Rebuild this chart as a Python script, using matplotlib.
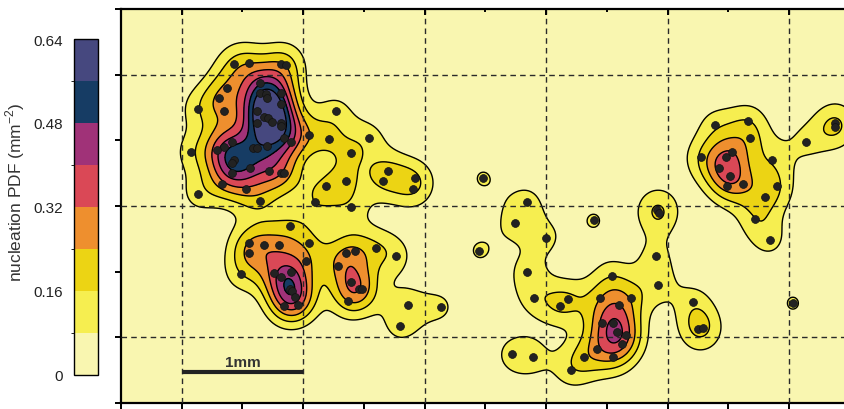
import numpy as np
import matplotlib
matplotlib.use('Agg')
import matplotlib.pyplot as plt
from matplotlib.colors import ListedColormap, BoundaryNorm

plt.rcParams['font.family'] = ['Liberation Sans', 'DejaVu Sans']
plt.rcParams['mathtext.fontset'] = 'custom'
plt.rcParams['mathtext.rm'] = 'Liberation Sans'

# nucleation sites, positions in mm
site_x = [0.93, 1.05, 1.32, 1.36, 0.87, 0.81, 0.63, 0.85, 1.14, 1.14,
          1.19, 1.32, 1.20, 1.32, 1.12, 1.18, 1.21, 1.12, 1.24, 1.32,
          1.32, 1.55, 1.34, 1.40, 0.91, 0.85, 0.79, 1.09, 1.12, 1.20,
          0.58, 0.93, 0.91, 1.06, 0.91, 1.22, 1.32, 1.34, 0.83, 1.03,
          0.63, 1.14, 1.60,
          1.77, 1.71, 2.04, 1.89, 2.20, 2.16, 2.42, 2.40, 1.69, 1.85,
          1.89,
          1.39, 1.05, 1.18, 1.30, 1.55, 1.05, 1.52, 0.99, 1.26, 1.40,
          1.32, 1.39, 1.41, 1.43, 1.34, 1.46,
          1.85, 1.93, 2.10, 2.26, 1.79, 1.89, 1.96, 1.98, 1.87, 2.36,
          2.63, 2.30,
          2.98, 2.95, 3.34, 3.24, 3.50, 3.89, 3.34, 3.40, 3.61, 3.68,
          3.22, 3.39,
          4.41, 4.43, 4.40, 4.04, 4.42, 3.94, 4.20, 4.10, 3.96, 4.05,
          4.08, 4.16, 4.12, 3.92, 3.81, 4.05, 3.70, 4.71, 4.75, 4.79,
          4.89, 5.16, 5.18, 4.77, 4.98, 5.03, 4.92, 5.01, 4.99, 5.12,
          5.36, 5.40, 5.30, 5.22, 5.34, 5.64, 5.88, 5.88, 5.53]
site_y = [2.58, 2.59, 2.58, 2.57, 2.40, 2.32, 2.24, 2.22, 2.44, 2.36,
          2.35, 2.36, 2.32, 2.28, 2.22, 2.18, 2.17, 2.13, 2.14, 2.13,
          2.11, 2.04, 2.02, 1.99, 1.99, 1.95, 1.93, 1.94, 1.94, 1.96,
          1.91, 1.85, 1.83, 1.79, 1.75, 1.77, 1.75, 1.75, 1.67, 1.63,
          1.59, 1.54, 1.53,
          2.22, 2.01, 2.02, 1.90, 1.77, 1.69, 1.71, 1.63, 1.65, 1.69,
          1.49,
          1.35, 1.22, 1.20, 1.20, 1.22, 1.14, 1.08, 0.98, 0.99, 1.00,
          0.96, 0.87, 0.85, 0.81, 0.74, 0.75,
          1.14, 1.16, 1.18, 1.12, 1.04, 0.92, 0.87, 0.87, 0.78, 0.75,
          0.73, 0.59,
          1.71, 1.16, 1.53, 1.37, 1.26, 1.39, 1.00, 0.80, 0.74, 0.79,
          0.37, 0.35,
          1.47, 1.45, 1.12, 0.97, 0.90, 0.80, 0.80, 0.75, 0.61, 0.61,
          0.54, 0.52, 0.45, 0.41, 0.35, 0.35, 0.25, 0.77, 0.56, 0.57,
          2.12, 2.15, 2.02, 1.87, 1.87, 1.91, 1.79, 1.73, 1.65, 1.67,
          1.85, 1.65, 1.57, 1.40, 1.24, 1.99, 2.13, 2.10, 0.76]

pdf_levels = [0, 0.08, 0.16, 0.24, 0.32, 0.40, 0.48, 0.56, 0.64]
pdf_colors = ['#F9F6B0', '#F6EE50', '#ECD414', '#EE8F2E',
              '#DA4856', '#A03278', '#163C64', '#46487F']
cbar_ticks = [0, 0.16, 0.32, 0.48, 0.64]
cbar_labels = ['0', '0.16', '0.32', '0.48', '0.64']

bandwidth = 0.13  # mm
pdf_gain = 1.2

# Gaussian kernel density of the sites, in mm^-2
gx = np.linspace(0, 6, 601)
gy = np.linspace(0, 3, 301)
X, Y = np.meshgrid(gx, gy)
sx = np.array(site_x)
sy = np.array(site_y)
Z = np.zeros_like(X)
for px, py in zip(sx, sy):
    Z += np.exp(-((X - px) ** 2 + (Y - py) ** 2) / (2 * bandwidth ** 2))
Z *= pdf_gain / (len(sx) * 2 * np.pi * bandwidth ** 2)
Z = np.minimum(Z, pdf_levels[-1] - 1e-4)

fig = plt.figure(figsize=(8.45, 4.10), dpi=100)
ax = fig.add_axes([121 / 845, 6 / 410, 729 / 845, 394 / 410])
ax.set_facecolor(pdf_colors[0])

cmap = ListedColormap(pdf_colors)
norm = BoundaryNorm(pdf_levels, cmap.N)
cf = ax.contourf(X, Y, Z, levels=pdf_levels, cmap=cmap, norm=norm, zorder=1)
ax.contour(X, Y, Z, levels=pdf_levels[1:-1], colors='k', linewidths=1.0,
           zorder=2)
ax.scatter(sx, sy, s=32, color='#222222', edgecolors='#111111',
           linewidths=0.5, zorder=4)

ax.set_xlim(0, 6)
ax.set_ylim(0, 3)
ax.set_xticks(np.arange(0.5, 6, 1.0))
ax.set_xticks(np.arange(0, 6.01, 1.0), minor=True)
ax.set_yticks(np.arange(0.5, 3, 1.0))
ax.set_yticks(np.arange(0, 3.01, 1.0), minor=True)
ax.tick_params(which='both', direction='out', length=4.5, width=1.4,
               labelbottom=False, labelleft=False, top=False, right=False)
ax.grid(which='major', linestyle=(0, (4, 3)), linewidth=1.0, color='#2a2a2a')
ax.set_axisbelow(False)
for side in ['left', 'bottom', 'top']:
    ax.spines[side].set_linewidth(1.6)
ax.spines['right'].set_visible(False)

# inward ticks on the top and right
ax_tr = fig.add_axes(ax.get_position(), frameon=False)
ax_tr.set_xlim(ax.get_xlim())
ax_tr.set_ylim(ax.get_ylim())
ax_tr.set_xticks(ax.get_xticks())
ax_tr.set_xticks(ax.get_xticks(minor=True), minor=True)
ax_tr.set_yticks(ax.get_yticks())
ax_tr.set_yticks(ax.get_yticks(minor=True), minor=True)
ax_tr.tick_params(which='both', direction='in', width=1.4,
                  left=False, labelleft=False, bottom=False,
                  labelbottom=False, top=True, right=True)
ax_tr.tick_params(which='major', length=4.5)
ax_tr.tick_params(which='minor', length=2.5)

# scale bar
ax.plot([0.5, 1.5], [0.235, 0.235], color='#222222', linewidth=3,
        solid_capstyle='butt', zorder=5)
ax.text(1.0, 0.28, '1mm', ha='center', va='baseline', fontsize=11,
        fontweight='bold', color='#333333', zorder=5)

# colour bar
cax = fig.add_axes([74 / 845, 34.4 / 410, 24 / 845, 335.6 / 410])
cb = fig.colorbar(cf, cax=cax, ticks=cbar_ticks)
cb.ax.set_yticklabels(cbar_labels)
cb.ax.yaxis.set_ticks_position('left')
cb.ax.tick_params(length=0, pad=8, labelsize=11, labelcolor='#222222')
cb.outline.set_linewidth(1.0)
fig.text(15 / 845, 218 / 410, 'nucleation PDF (mm$^{-2}$)', rotation=90,
         ha='center', va='center', fontsize=12.5, color='#333333')

fig.savefig('out.png', dpi=100)
